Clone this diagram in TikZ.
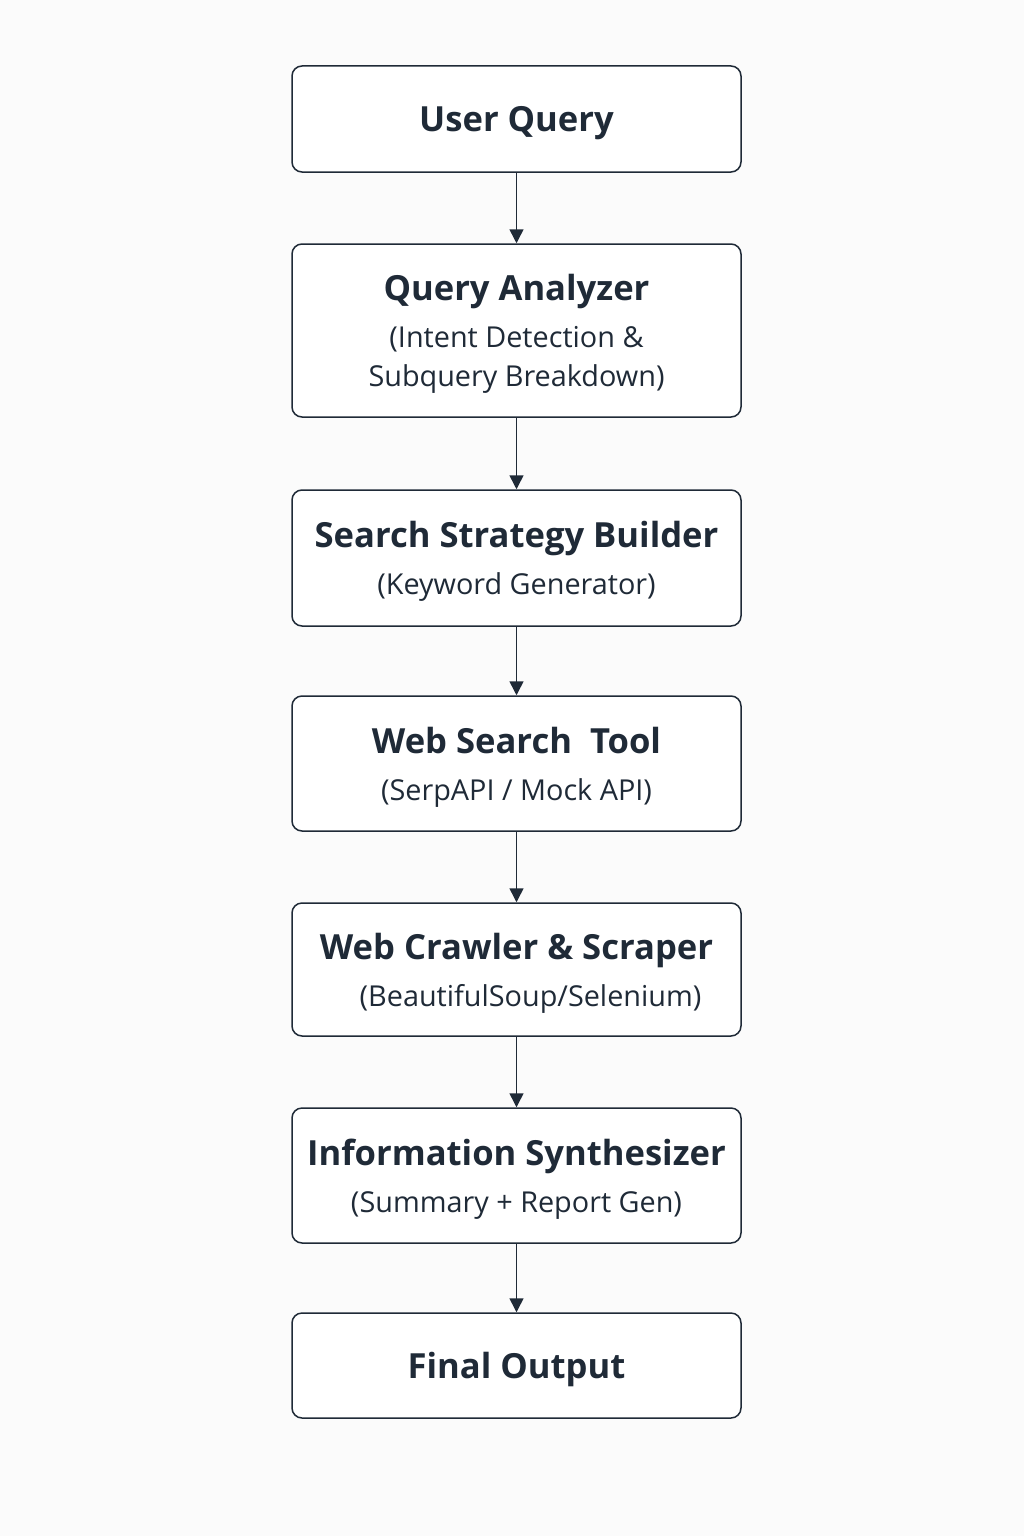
\documentclass[tikz,border=0pt]{standalone}
\usepackage{fontspec}
\setmainfont{Open Sans}
\usetikzlibrary{arrows.meta}
\definecolor{ink}{HTML}{1F2A37}
\definecolor{paper}{HTML}{FBFBFB}
\newcommand{\ttl}[1]{{\fontsize{17.3}{23.5}\selectfont\bfseries #1}}
\tikzset{
  stage/.style={draw=ink, line width=0.75pt, rounded corners=5pt, fill=white,
    minimum width=224.5pt, align=center, text=ink, inner sep=0pt,
    text depth=-0.6pt, font=\fontsize{14.4}{19.5}\selectfont},
  single/.style={text depth=0pt},
  flow/.style={draw=ink, line width=0.75pt, -{Triangle[length=7pt,width=7pt]}}
}
\begin{document}
\begin{tikzpicture}[x=0.5pt,y=-0.5pt]
        % 背景
        \fill[paper] (0,0) rectangle (1024,1536);
        % 各段階のボックス
        \node[stage, single, minimum height=53pt] (query) at (516.5,119) {\ttl{User Query}};
        \node[stage, minimum height=86.5pt] (analyzer) at (516.5,330.5)
          {\ttl{Query Analyzer}\\[4pt](Intent Detection \&\\Subquery Breakdown)};
        \node[stage, minimum height=68pt] (strategy) at (516.5,558)
          {\ttl{Search Strategy Builder}\\[4pt](Keyword Generator)};
        \node[stage, minimum height=67.5pt] (search) at (516.5,763.5)
          {\ttl{Web Search\ \ Tool}\\[4pt](SerpAPI / Mock API)};
        \node[stage, minimum height=66.5pt] (crawler) at (516.5,969.5)
          {\ttl{Web Crawler \& Scraper}\\[4pt]\hspace*{14pt}(BeautifulSoup/Selenium)};
        \node[stage, minimum height=67.5pt] (synth) at (516.5,1175.5)
          {\ttl{Information Synthesizer}\\[4pt](Summary + Report Gen)};
        \node[stage, single, minimum height=52.5pt] (output) at (516.5,1365.5) {\ttl{Final Output}};
        % 矢印でつなぐ
        \foreach \a/\b in {query/analyzer, analyzer/strategy, strategy/search,
                           search/crawler, crawler/synth, synth/output}
          \draw[flow] (\a.south) -- (\b.north);
      \end{tikzpicture}
\end{document}
